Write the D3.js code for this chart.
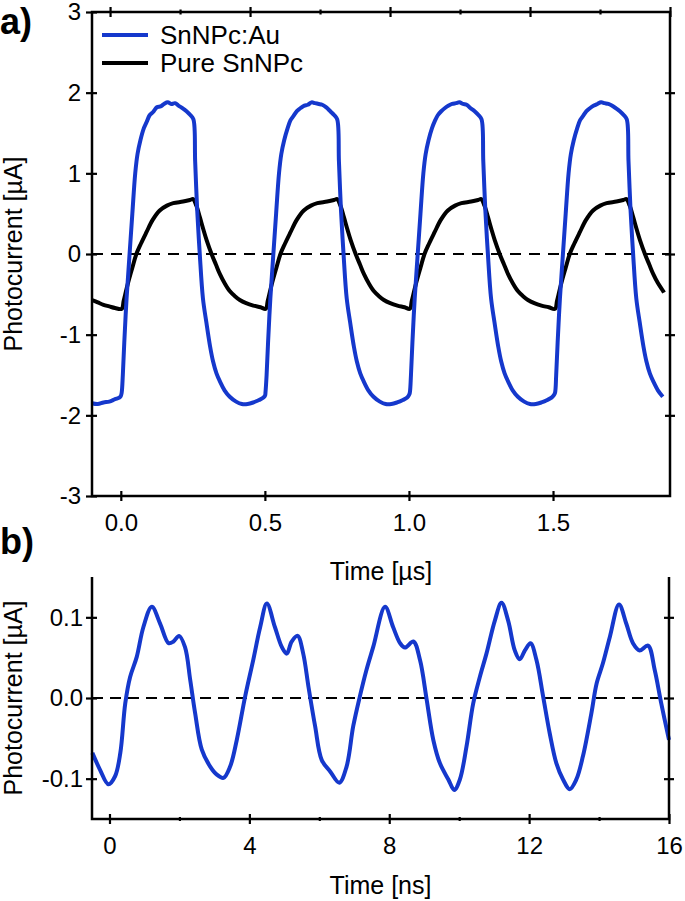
<!DOCTYPE html>
<html><head><meta charset="utf-8">
<script src="https://cdn.jsdelivr.net/npm/d3@7"></script>
<style>
html,body{margin:0;padding:0;background:#fff;}
svg text{font-family:"Liberation Sans",Arial,sans-serif;fill:#000;}
</style></head>
<body><svg id="c" width="685" height="901"></svg>
<script>
// ---------- DATA ----------
const seriesNames = ["SnNPc:Au", "Pure SnNPc"];
// Panel a: time [µs], photocurrent [µA]
const auTime = [-0.100,-0.080,-0.060,-0.040,-0.020,-0.005,0.000,
 0.003,0.007,0.012,0.020,0.030,0.040,0.050,0.058,0.068,0.080,0.090,0.100,0.112,0.125,0.138,0.150,0.163,0.175,0.188,0.200,0.213,0.228,0.242,0.252,0.258,0.265,0.274,0.285,0.297,0.310,0.320,0.332,0.344,0.360,0.378,0.400,0.420,0.440,0.460,0.480,0.495,0.501,
 0.502,0.506,0.511,0.519,0.529,0.539,0.549,0.557,0.567,0.579,0.589,0.599,0.611,0.624,0.637,0.649,0.662,0.674,0.687,0.699,0.712,0.727,0.741,0.751,0.757,0.764,0.773,0.784,0.796,0.809,0.819,0.831,0.843,0.859,0.877,0.899,0.919,0.939,0.959,0.979,0.994,1.000,
 1.003,1.007,1.012,1.020,1.030,1.040,1.050,1.058,1.068,1.080,1.090,1.100,1.112,1.125,1.138,1.150,1.163,1.175,1.188,1.200,1.213,1.228,1.242,1.252,1.258,1.265,1.274,1.285,1.297,1.310,1.320,1.332,1.344,1.360,1.378,1.400,1.420,1.440,1.460,1.480,1.495,1.503,
 1.507,1.511,1.516,1.524,1.534,1.544,1.554,1.562,1.572,1.584,1.594,1.604,1.616,1.629,1.642,1.654,1.667,1.679,1.692,1.704,1.717,1.732,1.746,1.756,1.762,1.769,1.778,1.789,1.801,1.814,1.824,1.836,1.848,1.864,1.881];
const auValue = [-1.85,-1.86,-1.84,-1.83,-1.80,-1.78,-1.76,
 -1.72,-1.50,-1.10,-0.55,-0.02,0.50,1.00,1.24,1.41,1.56,1.64,1.72,1.76,1.82,1.83,1.86,1.88,1.86,1.87,1.84,1.81,1.77,1.72,1.67,1.15,0.55,0.00,-0.55,-0.85,-1.15,-1.33,-1.48,-1.58,-1.69,-1.77,-1.83,-1.86,-1.86,-1.84,-1.81,-1.78,-1.75,
 -1.72,-1.50,-1.10,-0.55,-0.02,0.50,1.00,1.24,1.41,1.56,1.66,1.71,1.77,1.81,1.84,1.85,1.88,1.87,1.86,1.85,1.82,1.77,1.72,1.67,1.15,0.55,0.00,-0.55,-0.85,-1.15,-1.33,-1.48,-1.58,-1.69,-1.77,-1.83,-1.86,-1.86,-1.84,-1.81,-1.78,-1.75,
 -1.72,-1.50,-1.10,-0.55,-0.02,0.50,1.00,1.24,1.41,1.56,1.65,1.72,1.77,1.81,1.84,1.86,1.87,1.88,1.86,1.85,1.81,1.77,1.72,1.67,1.15,0.55,0.00,-0.55,-0.85,-1.15,-1.33,-1.48,-1.58,-1.69,-1.77,-1.83,-1.86,-1.86,-1.84,-1.81,-1.78,-1.75,
 -1.72,-1.50,-1.10,-0.55,-0.02,0.50,1.00,1.24,1.41,1.56,1.66,1.71,1.77,1.81,1.84,1.86,1.88,1.87,1.86,1.84,1.81,1.77,1.72,1.67,1.15,0.55,0.00,-0.55,-0.85,-1.15,-1.33,-1.48,-1.58,-1.69,-1.77];
const pureTime = [-0.100,-0.080,-0.060,-0.040,-0.020,
 0.003,0.010,0.025,0.040,0.054,0.070,0.089,0.110,0.135,0.160,0.182,0.216,0.240,0.251,0.262,0.274,0.286,0.298,0.315,0.330,0.344,0.360,0.378,0.395,0.413,0.435,0.460,0.485,
 0.503,0.510,0.525,0.540,0.554,0.570,0.589,0.610,0.635,0.660,0.682,0.716,0.740,0.751,0.762,0.774,0.786,0.798,0.815,0.830,0.844,0.860,0.878,0.895,0.913,0.935,0.960,0.985,
 1.003,1.010,1.025,1.040,1.054,1.070,1.089,1.110,1.135,1.160,1.182,1.216,1.240,1.251,1.262,1.274,1.286,1.298,1.315,1.330,1.344,1.360,1.378,1.395,1.413,1.435,1.460,1.485,
 1.507,1.514,1.529,1.544,1.558,1.574,1.593,1.614,1.639,1.664,1.686,1.720,1.744,1.755,1.766,1.778,1.790,1.802,1.819,1.834,1.848,1.864,1.882,1.885];
const pureValue = [-0.57,-0.60,-0.63,-0.65,-0.67,
 -0.68,-0.58,-0.36,-0.17,0.00,0.13,0.27,0.42,0.54,0.60,0.63,0.65,0.67,0.68,0.60,0.46,0.31,0.17,0.00,-0.13,-0.25,-0.36,-0.46,-0.52,-0.57,-0.61,-0.64,-0.66,
 -0.68,-0.58,-0.36,-0.17,0.00,0.13,0.27,0.42,0.54,0.60,0.63,0.65,0.67,0.68,0.60,0.46,0.31,0.17,0.00,-0.13,-0.25,-0.36,-0.46,-0.52,-0.57,-0.61,-0.64,-0.66,
 -0.68,-0.58,-0.36,-0.17,0.00,0.13,0.27,0.42,0.54,0.60,0.63,0.65,0.67,0.68,0.60,0.46,0.31,0.17,0.00,-0.13,-0.25,-0.36,-0.46,-0.52,-0.57,-0.61,-0.64,-0.66,
 -0.68,-0.58,-0.36,-0.17,0.00,0.13,0.27,0.42,0.54,0.60,0.63,0.65,0.67,0.68,0.60,0.46,0.31,0.17,0.00,-0.13,-0.25,-0.36,-0.46,-0.48];
// Panel b: time [ns], photocurrent [µA]
const nsTime = [-0.49,-0.27,-0.03,0.16,0.31,0.45,0.59,0.78,0.97,1.21,1.45,1.69,1.83,1.99,2.16,2.31,2.45,2.64,2.88,3.07,3.26,3.45,3.64,3.88,4.11,4.31,4.50,4.73,4.93,5.07,5.21,5.38,5.54,5.69,5.88,6.07,6.31,6.57,6.78,6.97,7.16,7.35,7.54,7.88,8.11,8.31,8.45,8.69,8.88,9.07,9.26,9.45,9.69,9.86,10.02,10.21,10.40,10.59,10.78,11.02,11.21,11.40,11.59,11.73,11.88,12.04,12.21,12.40,12.59,12.78,12.97,13.16,13.35,13.54,13.78,13.93,14.11,14.31,14.57,14.78,14.97,15.16,15.40,15.59,15.78,16.00];
const nsValue = [-0.068,-0.089,-0.107,-0.097,-0.068,-0.007,0.026,0.051,0.088,0.113,0.092,0.068,0.070,0.077,0.063,0.022,-0.019,-0.064,-0.085,-0.095,-0.099,-0.085,-0.052,0.002,0.047,0.088,0.117,0.088,0.063,0.055,0.070,0.077,0.055,0.014,-0.035,-0.077,-0.091,-0.105,-0.085,-0.035,0.002,0.035,0.063,0.113,0.088,0.068,0.0625,0.070,0.047,-0.002,-0.052,-0.081,-0.101,-0.114,-0.101,-0.060,-0.007,0.026,0.055,0.096,0.118,0.096,0.059,0.048,0.059,0.068,0.047,0.002,-0.044,-0.081,-0.101,-0.113,-0.101,-0.072,-0.019,0.018,0.043,0.076,0.116,0.092,0.068,0.059,0.065,0.035,-0.007,-0.052];
// Ticks
const aXTicks = [0, 0.5, 1.0, 1.5];
const aYTicks = [-3, -2, -1, 0, 1, 2, 3];
const aTopMajor = [0, 1, 2, 3, 4];
const aTopMinor = [0.5, 1.5, 2.5, 3.5];
const bXTicks = [0, 4, 8, 12, 16];
const bXMinor = [2, 6, 10, 14];
const bYTicks = [-0.1, 0.0, 0.1];

// ---------- DRAWING ----------
const BLUE = "#1538cc";
const svg = d3.select("#c");
const A = {l:92, r:670, t:12, b:496};
const B = {l:92, r:669, t:577, b:819};

const xa = d3.scaleLinear().domain([-0.1, 1.906]).range([A.l, A.r]);
const ya = d3.scaleLinear().domain([-3, 3]).range([A.b, A.t]);
const xaTop = d3.scaleLinear().domain([-0.129, 4]).range([A.l, A.r]);
const xb = d3.scaleLinear().domain([-0.5, 16]).range([B.l, B.r]);
const yb = d3.scaleLinear().domain([-0.15, 0.15]).range([B.b, B.t]);

const TICKFS = "24px", TITLEFS = "25px";
function styleAxis(g, fs) {
  g.select(".domain").remove();
  g.selectAll(".tick line").attr("stroke", "#000").attr("stroke-width", 2.2);
  g.selectAll(".tick text").attr("font-size", fs || TICKFS).attr("fill", "#000")
    .style("font-family", '"Liberation Sans", Arial, sans-serif');
}
function crossX(g, a, b) { g.selectAll(".tick line").attr("y1", a).attr("y2", b); }
function crossY(g, a, b) { g.selectAll(".tick line").attr("x1", a).attr("x2", b); }

const fmt1 = d => d.toFixed(1);
const fmt0 = d => String(d);

// ----- Panel a -----
const ga = svg.append("g");
ga.append("line").attr("x1", A.l).attr("x2", A.r).attr("y1", ya(0)).attr("y2", ya(0))
  .attr("stroke", "#000").attr("stroke-width", 2).attr("stroke-dasharray", "11,8");

const lineA = d3.line().x(d => xa(d[0])).y(d => ya(d[1])).curve(d3.curveCatmullRom.alpha(0.5));
ga.append("path").datum(pureTime.map((t, i) => [t, pureValue[i]]))
  .attr("d", lineA).attr("fill", "none").attr("stroke", "#000").attr("stroke-width", 4).attr("stroke-linejoin", "round");
ga.append("path").datum(auTime.map((t, i) => [t, auValue[i]]))
  .attr("d", lineA).attr("fill", "none").attr("stroke", BLUE).attr("stroke-width", 4).attr("stroke-linejoin", "round");

let g;
g = ga.append("g").attr("transform", `translate(0,${A.b})`)
  .call(d3.axisBottom(xa).tickValues(aXTicks).tickFormat(fmt1).tickSizeOuter(0));
styleAxis(g); crossX(g, -5, 5);
g.selectAll(".tick text").attr("y", 35).attr("dy", null);

g = ga.append("g").attr("transform", `translate(0,${A.t})`)
  .call(d3.axisTop(xaTop).tickValues(aTopMajor).tickFormat("").tickSizeOuter(0));
styleAxis(g); crossX(g, -5, 5);
g = ga.append("g").attr("transform", `translate(0,${A.t})`)
  .call(d3.axisTop(xaTop).tickValues(aTopMinor).tickFormat("").tickSizeOuter(0));
styleAxis(g); crossX(g, -2.5, 2.5);

g = ga.append("g").attr("transform", `translate(${A.l},0)`)
  .call(d3.axisLeft(ya).tickValues(aYTicks).tickFormat(fmt0).tickSizeOuter(0));
styleAxis(g); crossY(g, -6, 5);
g.selectAll(".tick text").attr("x", -11);

g = ga.append("g").attr("transform", `translate(${A.r},0)`)
  .call(d3.axisRight(ya).tickValues(aYTicks.filter(v => v > -3 && v < 3)).tickFormat("").tickSizeOuter(0));
styleAxis(g); crossY(g, -5, 5);

ga.append("rect").attr("x", A.l).attr("y", A.t).attr("width", A.r - A.l).attr("height", A.b - A.t)
  .attr("fill", "none").attr("stroke", "#000").attr("stroke-width", 2.5);

const leg = [[seriesNames[0], BLUE, 35], [seriesNames[1], "#000", 63]];
leg.forEach(([name, col, y]) => {
  ga.append("line").attr("x1", 102).attr("x2", 148).attr("y1", y).attr("y2", y)
    .attr("stroke", col).attr("stroke-width", 4);
  ga.append("text").attr("x", 160).attr("y", y + 9).attr("font-size", "26px").text(name);
});

svg.append("text").attr("x", 0).attr("y", 34).attr("font-size", "36px").attr("font-weight", "bold").text("a)");
svg.append("text").attr("x", (A.l + A.r) / 2).attr("y", 580).attr("text-anchor", "middle")
  .attr("font-size", TITLEFS).text("Time [µs]");
svg.append("text").attr("transform", `translate(22,${(A.t + A.b) / 2}) rotate(-90)`)
  .attr("text-anchor", "middle").attr("font-size", TITLEFS).text("Photocurrent [µA]");

// ----- Panel b -----
const gb = svg.append("g");
gb.append("line").attr("x1", B.l).attr("x2", B.r).attr("y1", yb(0)).attr("y2", yb(0))
  .attr("stroke", "#000").attr("stroke-width", 2).attr("stroke-dasharray", "11,7");
const lineB = d3.line().x(d => xb(d[0])).y(d => yb(d[1])).curve(d3.curveCatmullRom.alpha(0.5));
gb.append("path").datum(nsTime.map((t, i) => [t, nsValue[i]]))
  .attr("d", lineB).attr("fill", "none").attr("stroke", BLUE).attr("stroke-width", 4).attr("stroke-linejoin", "round");

g = gb.append("g").attr("transform", `translate(0,${B.b})`)
  .call(d3.axisBottom(xb).tickValues(bXTicks).tickFormat(fmt0).tickSizeOuter(0));
styleAxis(g); crossX(g, -5, 5);
g.selectAll(".tick text").attr("y", 35).attr("dy", null);
g = gb.append("g").attr("transform", `translate(0,${B.b})`)
  .call(d3.axisBottom(xb).tickValues(bXMinor).tickFormat("").tickSizeOuter(0));
styleAxis(g); crossX(g, -2, 2);

g = gb.append("g").attr("transform", `translate(${B.l},0)`)
  .call(d3.axisLeft(yb).tickValues(bYTicks).tickFormat(fmt1).tickSizeOuter(0));
styleAxis(g); crossY(g, -6, 5);
g.selectAll(".tick text").attr("x", -9);

g = gb.append("g").attr("transform", `translate(${B.r},0)`)
  .call(d3.axisRight(yb).tickValues(bYTicks).tickFormat("").tickSizeOuter(0));
styleAxis(g); crossY(g, -5, 5);

gb.append("path").attr("d", `M${B.l},${B.t}V${B.b}H${B.r}V${B.t}`)
  .attr("fill", "none").attr("stroke", "#000").attr("stroke-width", 2.5);

svg.append("text").attr("x", 0).attr("y", 554).attr("font-size", "36px").attr("font-weight", "bold").text("b)");
svg.append("text").attr("x", (B.l + B.r) / 2).attr("y", 894).attr("text-anchor", "middle")
  .attr("font-size", TITLEFS).text("Time [ns]");
svg.append("text").attr("transform", `translate(22,${(B.t + B.b) / 2}) rotate(-90)`)
  .attr("text-anchor", "middle").attr("font-size", TITLEFS).text("Photocurrent [µA]");
</script></body></html>
